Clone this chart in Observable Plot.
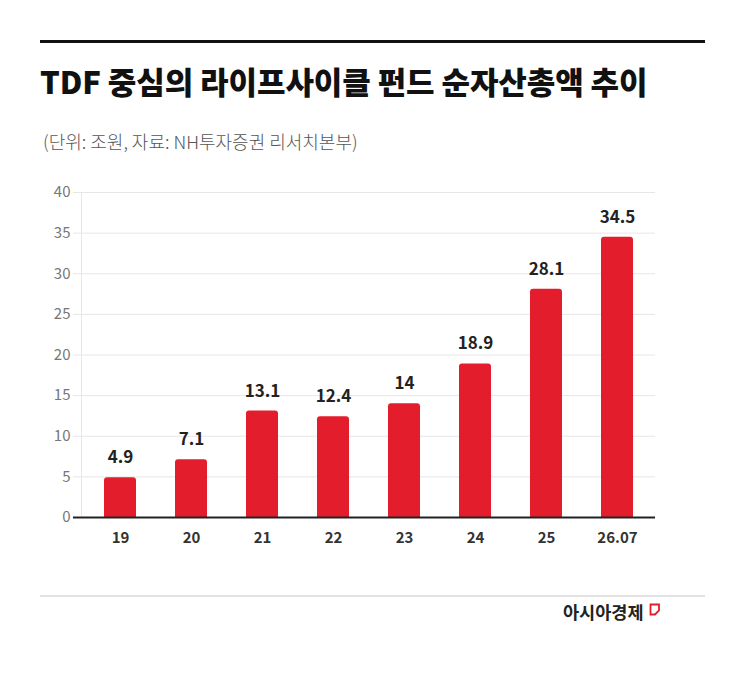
<!DOCTYPE html>
<html>
<head>
<meta charset="utf-8">
<script src="https://cdn.jsdelivr.net/npm/d3@7"></script>
<script src="https://cdn.jsdelivr.net/npm/@observablehq/plot@0.6"></script>
<style>
  body { margin: 0; background: #fff; width: 745px; height: 675px; position: relative; overflow: hidden;
         font-family: "Noto Sans CJK KR", "Noto Sans", sans-serif; }
  .abs { position: absolute; }
  #topline { left: 40px; top: 40px; width: 665px; height: 3px; background: #111; }
  #title { left: 40px; top: 61px; font-size: 31px; font-weight: 900; color: #111; line-height: 40px; letter-spacing: -0.1px; white-space: nowrap; }
  #subtitle { left: 43px; top: 129px; font-size: 18px; font-weight: 300; color: #555; line-height: 24px; white-space: nowrap; }
  #chart { left: 0; top: 170px; }
  #bottomline { left: 40px; top: 595px; width: 665px; height: 2px; background: #e2e2e2; }
  #logo { left: 563px; top: 599px; font-size: 17.5px; font-weight: 700; color: #222; line-height: 26px; white-space: nowrap; }
  #icon { left: 649px; top: 603px; }
</style>
</head>
<body>
<div id="topline" class="abs"></div>
<div id="title" class="abs">TDF 중심의 라이프사이클 펀드 순자산총액 추이</div>
<div id="subtitle" class="abs">(단위: 조원, 자료: NH투자증권 리서치본부)</div>
<div id="chart" class="abs"></div>
<div id="bottomline" class="abs"></div>
<div id="logo" class="abs">아시아경제</div>
<svg id="icon" class="abs" width="12" height="14" viewBox="0 0 12 14">
  <path d="M1.5 1.5 L10 1.5 L10 7.5 L6 11.5 L1.5 11.5 Z" fill="none" stroke="#e31d2c" stroke-width="1.8"/>
</svg>
<script>
const years = ["19", "20", "21", "22", "23", "24", "25", "26.07"];
const values = [4.9, 7.1, 13.1, 12.4, 14, 18.9, 28.1, 34.5];
const yTicks = [0, 5, 10, 15, 20, 25, 30, 35, 40];

const data = years.map((y, i) => ({year: y, value: values[i]}));

const chart = Plot.plot({
  width: 745,
  height: 390,
  marginTop: 22,
  marginBottom: 43,
  marginLeft: 81,
  marginRight: 90,
  style: {fontFamily: "'Noto Sans CJK KR', 'Noto Sans', sans-serif", background: "transparent"},
  x: {domain: years, paddingInner: 0.55, paddingOuter: 0.275, label: null},
  y: {domain: [0, 40], label: null},
  marks: [
    Plot.gridY(yTicks, {stroke: "#e6e6e6", strokeOpacity: 1}),
    Plot.frame({anchor: "left", stroke: "#e6e6e6"}),
    Plot.axisY(yTicks, {tickSize: 8, tickPadding: 3, stroke: "#e6e6e6", fill: "#777", fontSize: 15, label: null}),
    Plot.barY(data, {x: "year", y: "value", fill: "#e31d2c", rx: 3, insetBottom: -5, clip: true}),
    Plot.axisY([0], {tickSize: 8, tickPadding: 3, stroke: "#222", strokeWidth: 2, tickFormat: () => "", label: null}),
    Plot.ruleY([0], {stroke: "#222", strokeWidth: 2}),
    Plot.axisX({tickSize: 0, tickPadding: 15, fill: "#333", fontSize: 15, fontWeight: 700, label: null}),
    Plot.text(data, {x: "year", y: "value", text: d => String(d.value), dy: -20, fill: "#222", fontSize: 17, fontWeight: 700})
  ]
});
document.getElementById("chart").appendChild(chart);
</script>
</body>
</html>
